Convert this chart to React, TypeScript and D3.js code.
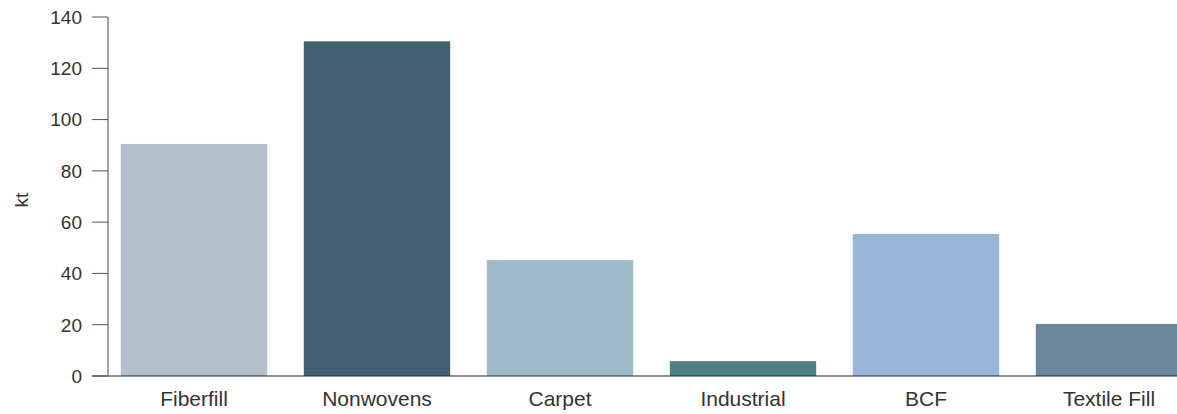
import React from "react";
import * as d3 from "d3";

const categories = ["Fiberfill", "Nonwovens", "Carpet", "Industrial", "BCF", "Textile Fill"];
const values = [90.5, 130.5, 45.2, 5.8, 55.4, 20.3];
const colors = ["#b2c0cb", "#426072", "#a0bcc9", "#4f7f89", "#98b6d8", "#6b8799"];
const yTicks = [0, 20, 40, 60, 80, 100, 120, 140];

export default function App() {
  const W = 1177, H = 414;
  const x = d3.scaleBand<string>().domain(categories).range([108, 1195]).paddingInner(0.2).paddingOuter(0.07);
  const y = d3.scaleLinear().domain([0, 140]).range([376, 17]);
  const font = "'Liberation Sans', Arial, Helvetica, sans-serif";
  return (
    <svg width={W} height={H} style={{ position: "absolute", left: 0, top: 0, display: "block" }}>
      {categories.map((c, i) => (
        <rect key={c} x={x(c)} y={y(values[i])} width={x.bandwidth()} height={y(0) - y(values[i])} fill={colors[i]} />
      ))}
      <line x1={92} x2={W} y1={y(0)} y2={y(0)} stroke="#222" strokeWidth={1.2} />
      <line x1={108} x2={108} y1={y(140)} y2={y(0)} stroke="#666" strokeWidth={1.2} />
      {yTicks.map((t) => (
        <g key={t}>
          <line x1={92} x2={108} y1={y(t)} y2={y(t)} stroke="#555" strokeWidth={1} />
          <text x={82} y={y(t)} dy="0.36em" textAnchor="end" fontFamily={font} fontSize={19} fill="#333">{t}</text>
        </g>
      ))}
      {categories.map((c) => (
        <text key={c} x={(x(c) ?? 0) + x.bandwidth() / 2} y={406} textAnchor="middle" fontFamily={font} fontSize={21} fill="#333">{c}</text>
      ))}
      <text transform={`translate(28,200) rotate(-90)`} textAnchor="middle" fontFamily={font} fontSize={19} fill="#333">kt</text>
    </svg>
  );
}
